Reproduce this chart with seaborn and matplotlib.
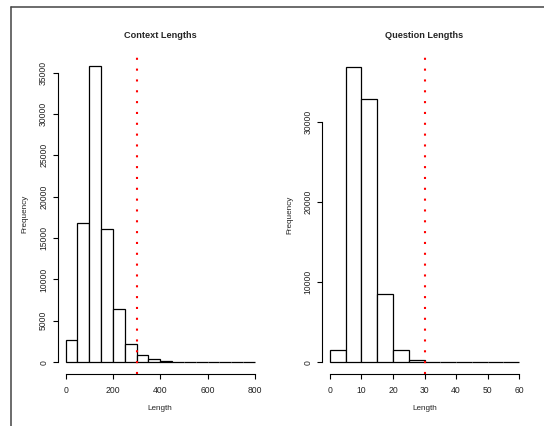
import numpy as np
import pandas as pd
import matplotlib
matplotlib.use("Agg")
import matplotlib.pyplot as plt
from matplotlib.lines import Line2D
import seaborn as sns

# data (R-style histograms, counts per bin)
context_edges = [0, 50, 100, 150, 200, 250, 300, 350, 400, 450, 500, 550, 600, 650, 700, 750, 800]
context_counts = [2650, 16800, 35750, 16100, 6400, 2200, 900, 380, 150, 80, 40, 25, 15, 8, 5, 3]
context_cut = 300

question_edges = [0, 5, 10, 15, 20, 25, 30, 35, 40, 45, 50, 55, 60]
question_counts = [1550, 36850, 32800, 8500, 1500, 290, 80, 30, 10, 5, 3, 1]
question_cut = 30

context_xticks = [0, 200, 400, 600, 800]
context_yticks = [0, 5000, 10000, 15000, 20000, 25000, 30000, 35000]
question_xticks = [0, 10, 20, 30, 40, 50, 60]
question_yticks = [0, 10000, 20000, 30000]

sns.set_style("white")
plt.rcParams['font.family'] = ['Liberation Sans', 'DejaVu Sans']

W, H = 544, 426
fig = plt.figure(figsize=(W / 100, H / 100), dpi=100)


def panel(rect_px, edges, counts, cut, xticks, yticks, title):
    x0, x1, y0, y1 = rect_px
    ax = fig.add_axes([x0 / W, 1 - y1 / H, (x1 - x0) / W, (y1 - y0) / H])
    e = np.array(edges, dtype=float)
    df = pd.DataFrame({"length": (e[:-1] + e[1:]) / 2, "count": counts})
    sns.histplot(data=df, x="length", weights="count", bins=list(edges), ax=ax,
                 color="white", edgecolor="black", linewidth=0.9, alpha=1)
    # R pads axis ranges by 4%
    xr = edges[-1] - edges[0]
    yr = max(counts)
    ax.set_xlim(edges[0] - 0.04 * xr, edges[-1] + 0.04 * xr)
    ax.set_ylim(-0.04 * yr, yr * 1.04)
    ax.axvline(cut, color="red", linestyle=(0, (1, 4.2)), linewidth=1.5,
               dash_capstyle="butt")

    for s in ["top", "right"]:
        ax.spines[s].set_visible(False)
    ax.spines["left"].set_bounds(yticks[0], yticks[-1])
    ax.spines["bottom"].set_bounds(xticks[0], xticks[-1])
    for s in ["left", "bottom"]:
        ax.spines[s].set_color("black")
        ax.spines[s].set_linewidth(0.8)

    ax.set_xticks(xticks)
    ax.set_xticklabels([str(t) for t in xticks], fontsize=6.2)
    ax.set_yticks(yticks)
    ax.set_yticklabels([str(t) for t in yticks], fontsize=6.2,
                       rotation=90, va="center", ha="right")
    ax.tick_params(axis="both", bottom=True, left=True, direction="out",
                   length=3.6, width=0.8, color="black",
                   labelcolor="#222222")
    ax.tick_params(axis="x", pad=5)
    ax.tick_params(axis="y", pad=3.5)
    ax.set_xlabel("")
    ax.set_ylabel("")

    cx = (x0 + x1) / 2 / W
    fig.text(cx, 1 - 35 / H, title, ha="center", va="center",
             fontsize=6.6, fontweight="bold")
    fig.text(cx, 1 - 408 / H, "Length", ha="center", va="center", fontsize=5.9)
    fig.text((x0 - 33) / W, 1 - (y0 + y1) / 2 / H, "Frequency", ha="center",
             va="center", rotation=90, fontsize=5.9)
    return ax


panel((58, 262.5, 54.5, 374), context_edges, context_counts, context_cut,
      context_xticks, context_yticks, "Context Lengths")
panel((322.4, 526.6, 55, 374), question_edges, question_counts, question_cut,
      question_xticks, question_yticks, "Question Lengths")

# frame of the window the chart was captured from
fig.add_artist(Line2D([10.5 / W, 1], [1 - 6.5 / H, 1 - 6.5 / H],
                      transform=fig.transFigure, color="#444444", linewidth=1.1))
fig.add_artist(Line2D([10.5 / W, 10.5 / W], [0, 1 - 6.5 / H],
                      transform=fig.transFigure, color="#444444", linewidth=1.1))

fig.savefig("out.png", dpi=100, facecolor="white")
